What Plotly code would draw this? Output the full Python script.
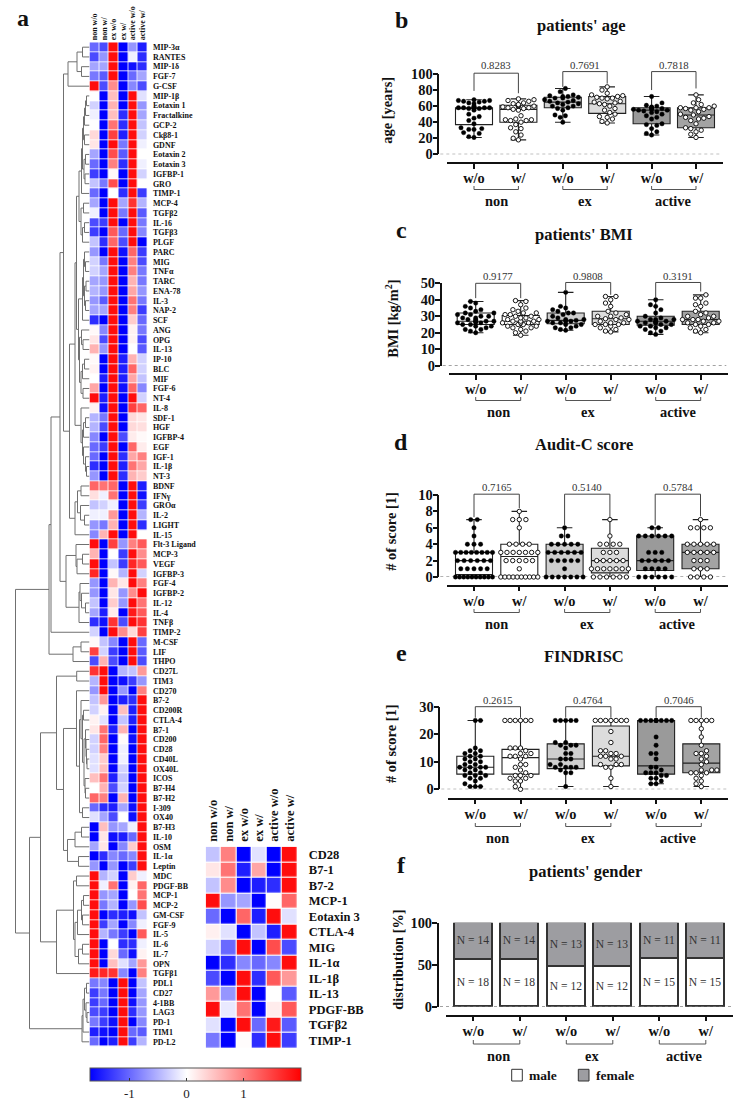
import plotly.graph_objects as go

W, H = 740, 1101
SERIF = "Liberation Serif"

def xd(p): return p / W
def yd(p): return 1 - p / H

# ---------- heat map data ----------
columns = ["non w/o", "non w/", "ex w/o", "ex w/", "active w/o", "active w/"]
row_labels = ["MIP-3α","RANTES","MIP-1δ","FGF-7","G-CSF","MIP-1β","Eotaxin 1","Fractalkine","GCP-2","Ckβ8-1","GDNF",
 "Eotaxin 2","Eotaxin 3","IGFBP-1","GRO","TIMP-1","MCP-4","TGFβ2","IL-16","TGFβ3","PLGF","PARC","MIG","TNFα","TARC",
 "ENA-78","IL-3","NAP-2","SCF","ANG","OPG","IL-13","IP-10","BLC","MIF","FGF-6","NT-4","IL-8","SDF-1","HGF","IGFBP-4",
 "EGF","IGF-1","IL-1β","NT-3","BDNF","IFNγ","GROα","IL-2","LIGHT","IL-15","Flt-3 Ligand","MCP-3","VEGF","IGFBP-3",
 "FGF-4","IGFBP-2","IL-12","IL-4","TNFβ","TIMP-2","M-CSF","LIF","THPO","CD27L","TIM3","CD270","B7-2","CD200R","CTLA-4",
 "B7-1","CD200","CD28","CD40L","OX40L","ICOS","B7-H4","B7-H2","I-309","OX40","B7-H3","IL-10","OSM","IL-1α","Leptin",
 "MDC","PDGF-BB","MCP-1","MCP-2","GM-CSF","FGF-9","IL-5","IL-6","IL-7","OPN","TGFβ1","PDL1","CD27","4-1BB","LAG3",
 "PD-1","TIM1","PD-L2"]
heat_values = [
[-1.0,-1.2,1.9,-1.7,-0.7,-1.5],[-1.2,-0.7,1.9,-1.7,-0.1,-1.4],[-0.6,-0.6,1.9,-1.7,-1.6,-1.4],[-0.9,-1.1,1.9,-1.7,-1.0,-0.6],
[1.9,-1.2,0.9,-1.7,-0.8,-1.2],[0,-1.7,0.5,-1.7,1.9,-0.2],[-0.3,-1.7,0.6,-1.7,1.9,-0.7],[-0.1,-1.7,0.5,-1.4,1.9,-0.6],
[0,-1.7,1.1,-1.4,1.9,-0.4],[0.3,-1.7,1.5,-1.5,1.9,-0.3],[0.2,-1.7,1.9,-0.9,1.9,-0.1],[-0.6,-1.7,1.4,-1.1,1.9,0],
[-1.0,-1.7,1.0,-1.4,1.9,-0.1],[-1.3,-1.7,0.05,-1.7,1.9,-0.3],[-0.4,-0.9,1.4,-1.7,1.9,0],[-1.0,-1.7,0,-1.4,1.9,-1.3],
[-0.6,-1.7,1.9,-0.6,1.6,-0.5],[-0.1,-1.7,1.9,-0.9,1.9,-1.1],[-1.2,-1.3,1.9,-1.7,1.9,-0.9],[-1.3,-1.7,1.3,-1.0,1.9,-0.8],
[-0.4,-1.4,1.2,-1.2,1.9,-1.7],[-0.7,-1.7,1.9,-1.6,1.2,-1.3],[-0.3,-0.9,1.9,-1.7,1.0,-1.2],[-0.3,-0.6,1.9,-1.7,1.0,-0.9],
[-0.6,-0.7,1.9,-1.7,0.6,-0.9],[-0.5,-0.7,1.9,-1.7,0.7,-0.7],[-0.7,-1.1,1.9,-1.7,1.1,-0.9],[-0.6,-0.6,1.9,-1.7,1.0,-1.3],
[-1.4,-1.7,1.9,-1.7,0.4,-1.0],[0.05,-0.8,1.9,-1.7,0.1,-0.9],[0.2,-1.2,1.9,-1.7,0.1,-1.2],[0.6,-0.7,1.9,-1.7,0,-1.1],
[0.05,-1.7,1.9,-1.5,0.6,-0.3],[0.1,-1.7,1.9,-1.5,1.2,-0.3],[0,-1.5,1.9,-1.5,0.7,-0.4],[0.7,-1.7,1.9,-1.6,1.2,-0.8],
[1.9,-1.5,1.9,-1.7,1.9,-0.3],[0.1,-1.6,1.9,-1.7,1.5,1.2],[-0.5,-0.9,1.9,-1.7,0.3,0.2],[-0.5,-1.2,1.9,-1.7,0.3,0.25],
[-0.8,-1.7,1.9,-1.2,0.15,0.05],[-1.0,-1.3,1.9,-1.7,1.2,0.15],[-1.0,-1.7,1.9,-1.4,0.7,1.0],[-1.4,-1.7,1.9,-1.5,1.1,0.7],
[-0.7,-1.7,1.9,-1.4,0.6,0.4],[1.2,1.1,1.2,-1.7,1.9,-1.5],[0.25,-0.1,1.1,-1.7,1.9,-1.6],[-0.4,-0.3,-0.1,-1.7,1.9,-1.3],
[-0.1,-0.1,0.8,-1.7,1.9,-0.5],[-0.7,-0.9,0.6,-1.7,1.9,-1.4],[-0.8,0.6,1.9,-1.7,1.9,0],[1.9,-1.7,1.5,-0.7,1.0,1.3],
[0.6,-1.7,0,-1.3,1.9,0.9],[1.9,-1.7,-0.4,-1.3,1.7,1.3],[1.7,-1.7,0.05,-0.5,1.9,-0.3],[-0.7,-1.7,0.6,0.2,1.9,1.0],
[-0.7,-1.7,0.2,-0.7,0.9,1.9],[-0.4,-1.7,0.4,-0.7,1.9,1.1],[-0.6,-1.5,0.15,-1.7,1.8,1.3],[-1.4,-1.6,1.6,-1.2,1.9,1.6],
[-0.3,-1.7,1.9,0.9,0.3,1.5],[0.05,-0.4,-0.8,-1.7,1.9,-1.0],[1.5,-0.3,-1.3,-1.7,1.9,-1.1],[-1.2,0.6,-1.2,-1.7,1.9,-1.2],
[1.6,1.9,-1.7,-0.5,-0.4,0.8],[-0.5,1.9,-1.7,-1.6,-1.3,-0.7],[-0.7,1.9,-1.7,-0.7,-1.7,1.0],[-0.4,0.8,-1.7,-1.5,-1.4,1.9],
[-0.3,0.1,-1.7,0.5,-1.5,1.9],[0.1,-0.2,-1.7,-0.4,-1.5,1.9],[0.2,1.1,-1.5,0.6,-1.7,1.9],[-0.3,1.2,-1.7,0.03,-1.6,1.9],
[-0.3,1.0,-1.7,-0.1,-1.7,1.9],[-0.2,0.4,-1.7,-0.1,-1.7,1.9],[-0.2,0.5,-1.7,-0.3,-1.7,1.9],[0.5,1.1,-1.5,-0.4,-1.7,1.9],
[0,0.6,-1.2,-0.3,-1.7,1.9],[1.2,1.0,-1.7,0.6,-1.7,1.9],[-1.0,-1.4,-1.5,-0.6,-1.6,1.9],[-0.2,-0.6,-1.2,0,-1.6,1.9],
[-1.7,0.5,-0.7,-0.6,-0.1,1.9],[-1.7,0.2,-1.6,-1.5,-1.0,1.9],[-0.6,0.2,-1.7,-0.8,0.4,1.9],[-1.7,-1.4,-0.8,-1.0,-0.8,1.9],
[-0.7,-1.7,-0.7,-1.7,-1.3,1.9],[1.9,-0.5,-0.3,-1.7,0.4,-0.1],[1.9,-0.1,1.1,-1.7,0.1,1.2],[1.9,-0.7,-0.6,-1.7,0,1.1],
[1.9,-0.9,-0.5,-1.7,-0.7,1.4],[1.9,-1.7,-1.4,-1.5,-1.6,-0.4],[1.9,-1.3,-0.6,-1.7,-0.8,-0.1],[1.9,-0.5,-0.9,-1.3,-1.7,1.3],
[1.9,-1.7,0,-1.4,-1.4,-0.1],[1.9,-1.7,0.3,-1.0,-1.6,0.1],[1.9,-1.7,0.5,-0.2,-0.6,0.8],[1.8,1.7,1.6,-0.8,-1.7,1.0],
[-0.9,-0.8,-1.7,1.9,-1.7,-0.4],[-1.3,-0.9,-1.7,1.9,-1.7,-0.6],[-1.3,-1.0,-1.7,1.9,-1.6,-0.7],[-1.2,-1.3,-1.7,1.9,-1.4,-0.7],
[-0.9,-1.3,-1.6,1.9,-1.7,-0.8],[-1.5,-1.6,-1.7,1.9,-1.0,-1.1],[-1.0,-1.7,-1.5,1.9,-1.3,-0.5]]

small_labels = ["CD28","B7-1","B7-2","MCP-1","Eotaxin 3","CTLA-4","MIG","IL-1α","IL-1β","IL-13","PDGF-BB","TGFβ2","TIMP-1"]
small_values = [
[-0.4,1.0,-1.7,-0.2,-1.7,1.9],[0.2,1.1,-1.5,0.7,-1.7,1.9],[-0.4,0.9,-1.7,-1.5,-1.4,1.9],[1.9,-0.7,-0.6,-1.7,0.02,1.2],
[-1.0,-1.7,1.2,-1.5,1.9,-0.2],[0.12,-0.2,-1.7,-0.4,-1.5,1.9],[-0.3,-1.0,1.9,-1.7,1.4,-1.2],[-1.7,-1.4,-0.8,-1.0,-0.8,1.9],
[-1.2,-1.7,1.9,-1.4,1.3,0.8],[0.8,-0.7,1.9,-1.7,0.0,-1.1],[1.9,-0.15,1.1,-1.7,0.15,1.3],[-0.2,-1.7,1.9,-1.0,1.8,-1.1],
[-0.9,-1.7,0.02,-1.4,1.9,-1.3]]

# dendrogram merges: [height, child, child]; a child is a row number or another merge
mip = [21.5,[12.5,[7,0,1],[8,2,3]],4]
d1 = [8,[7,[6,[5,[4,[3,5,6],7],8],[5,9,10]],[5.5,[4,11,12],[4.5,13,14]]],15]
d2 = [8.5,[6,16,17],[7,[5,18,19],20]]
e1 = [7,[6,[5,21,[4,22,23]],[5,[3.5,24,25],[4,26,27]]],28]
e2 = [10,[8,29,[6.5,30,31]],[8.5,[7,[5,32,33],34],[6.5,35,36]]]
e3 = [8.5,37,[7,[6,[4,38,39],40],[6,41,[4,42,[3,43,44]]]]]
upper_mid = [14.5,[13,[10.5,d1,d2],[11,e1,e2]],e3]
bdnf = [14.5,[12,[8.5,45,46],[9,47,[5,48,49]]],50]
low_up = [23.5,[13.5,51,[12.5,[7,52,53],54]],[10.5,[9.5,55,[8,56,[4,57,58]]],59]]
upper = [40.5,[38.5,[29.5,[26,mip,[20,upper_mid,bdnf]],low_up],60],[16.5,[8.5,61,62],63]]
cd_a = [13,66,[10,[8.5,67,[7,[6,68,69],[5.5,[4,70,[3.5,71,[3,72,[2.5,73,74]]]],[4.5,75,[4,76,77]]]]],[7,78,79]]]
cd_b = [22,[14.5,[8,80,81],82],[11,83,84]]
cd_top = [33,[12.8,64,65],[26,cd_a,cd_b]]
mono = [33,[16,[13,85,86],[14.5,[12,[8,[6,87,88],[7,89,90]],91],[11,[7,92,93],94]]],95]
checkpoint = [7.5,[6.5,[5,[3,96,97],[3.5,98,[2.5,99,100]]],101],102]
dendrogram = [74,upper,[60,[49,cd_top,mono],checkpoint]]

# ---------- patient panels data ----------
groups = ["non", "ex", "active"]
tick_text = ["w/o", "w/", "w/o", "w/", "w/o", "w/"]

age_values = [
 [68,67,67,66,66,65,64,63,60,59,59,58,58,58,58,58,57,57,55,50,47,45,42,38,33,32,31,31,27,26,22,21],
 [69,68,67,66,64,63,62,61,61,60,60,60,59,58,58,57,56,55,48,44,43,43,42,42,40,37,33,32,28,24,20,18],
 [82,78,74,73,72,72,71,70,70,68,67,66,65,64,63,62,60,60,58,57,55,49,48,46,40],
 [84,80,76,74,73,72,71,70,70,69,66,65,64,63,62,60,57,55,52,50,47,46,44,41,39],
 [72,64,61,60,59,58,58,57,56,56,55,55,54,53,52,50,48,46,44,38,37,36,32,28,26,24],
 [74,68,64,62,60,58,58,58,57,56,55,53,50,49,47,46,45,44,42,38,33,32,30,28,25,21]]
age_q1 = [37,40,58,51,38,33]; age_med = [57,56,65,63,55,49]; age_q3 = [58,61,71,72,58,58]
age_low = [21,18,40,39,24,21]; age_high = [68,69,82,84,72,74]

bmi_values = [
 [39,38,36,35,34,33,32,32,31,31,30,30,29,29,28,28,27,27,27,27,26,26,26,25,25,24,24,23,22,22,21,20],
 [39.5,39,37,35,34,33,32,32,31,31,30,30,29,29,28,28,27,27,27,26,26,26,25,25,24,24,23,23,22,21,20,18.5],
 [44.5,36,35,34,33,32,32,31,30,29,28,28,27.5,27,27,27,26,26,25,25,24,23,23,22,21.5],
 [42,42,40,38,36,33,32,31,30,30,29,28.5,28,28,27,26,26,25,25,25,24,23,22,21,20.5],
 [40,37,36,34,32,30,29,28,28,28,27,27,27,26,26,26,25,25,24,24,23,23,22,21,20,19],
 [43,41,41,38,37,36,33,32,31,30,30,29,28,28,28,27,27,26,26,25,25,24,23,22,21,20]]
bmi_q1 = [25,25,25.5,25,24.5,25]; bmi_med = [27,27,27.5,28.5,27,28]; bmi_q3 = [32,30.5,32,33,30,33]
bmi_low = [20,18.5,21.5,20.5,19,20]; bmi_high = [39,39.5,44.5,42,40,43]

audit_values = [
 [7,7,6,5,4,4,4,3,3,3,3,3,3,3,3,2,2,2,2,2,2,1,1,1,1,1,0,0,0,0,0,0,0,0,0,0],
 [8,7,7,7,6,4,4,4,4,3,3,3,3,3,3,3,2,2,2,2,2,1,0,0,0,0,0,0,0,0,0,0],
 [6,5,5,4,4,4,4,4,3,3,3,3,3,3,2,2,2,2,2,1,0,0,0,0,0,0,0],
 [7,5,4,4,4,4,3,3,3,2,2,2,2,2,1,1,1,1,1,1,1,0,0,0,0,0,0],
 [6,6,5,5,5,5,5,5,3,3,3,2,2,2,2,2,1,1,1,1,0,0,0,0,0,0],
 [7,6,6,6,6,4,4,4,4,4,3,3,3,3,3,2,2,2,1,1,1,0,0,0,0]]
audit_q1 = [0.3,0,0,0.5,0.8,1]; audit_med = [2,2.5,3,2,2,3]; audit_q3 = [3,4,4,3.5,5,4]
audit_low = [0,0,0,0,0,0]; audit_high = [7,8,6,7,6,7]

find_values = [
 [25,25,15,14,14,13,13,12,12,11,11,10,10,9,9,8,8,8,8,7,7,6,6,5,5,5,4,4,3,2,1,1,1],
 [25,25,25,25,25,25,15,15,15,14,13,13,12,12,12,11,9,9,8,7,6,5,5,5,4,4,3,3,1,0],
 [25,25,25,25,25,17,17,16,16,16,15,13,13,11,11,11,9,9,8,8,8,8,7,6,6,1],
 [25,25,25,25,25,25,25,21,17,14,14,13,13,12,12,12,11,11,9,9,9,8,8,4,1],
 [25,25,25,25,25,25,25,25,25,19,16,13,13,11,8,8,7,6,6,6,5,5,4,4,3,2,2],
 [25,25,25,25,25,22,19,16,14,13,13,12,11,10,9,7,7,7,6,6,6,5,4,3,2,1]]
find_q1 = [5.5,5.5,7.5,8.5,5.5,6]; find_med = [8,11.5,11,12,8.5,9.5]; find_q3 = [12,14.5,16.5,23,25,16.5]
find_low = [1,0,1,1,2,1]; find_high = [25,25,25,25,25,25]

male_n = [18,18,12,12,15,15]
female_n = [14,14,13,13,11,11]

age_p = ["0.8283","0.7691","0.7818"]
bmi_p = ["0.9177","0.9808","0.3191"]
audit_p = ["0.7165","0.5140","0.5784"]
find_p = ["0.2615","0.4764","0.7046"]

# ---------- figure ----------
fig = go.Figure()
shapes, notes = [], []

def note(x, y, text, size, bold=True, color="#111", anchor="center", angle=0):
    t = f"<b>{text}</b>" if bold else text
    notes.append(dict(x=xd(x), y=yd(y), xref="paper", yref="paper", text=t, showarrow=False,
                      textangle=angle, xanchor=anchor, yanchor="middle",
                      font=dict(family=SERIF, size=size, color=color)))

colorscale = [[0, "#0000ff"], [1.7 / 3.7, "#ffffff"], [1, "#ff0000"]]
ZMIN, ZMAX = -1.7, 2.0

fig.add_trace(go.Heatmap(z=heat_values, x=columns, y=row_labels, xaxis="x", yaxis="y", xgap=0.8, ygap=0.8,
    colorscale=colorscale, zmin=ZMIN, zmax=ZMAX, showscale=True,
    colorbar=dict(orientation="h", lenmode="pixels", len=210.5, thicknessmode="pixels", thickness=12.5,
                  x=xd(89.5), xanchor="left", y=yd(1068), yanchor="top", xpad=0, ypad=0,
                  tickvals=[-1, 0, 1], ticktext=["-1", "0", "1"], ticks="inside", ticklen=3, tickcolor="#333",
                  outlinecolor="#555", outlinewidth=1,
                  tickfont=dict(family=SERIF, size=13, color="#222"))))
fig.add_trace(go.Heatmap(z=small_values, x=columns, y=small_labels, xaxis="x2", yaxis="y2", xgap=1.2, ygap=1.2,
    colorscale=colorscale, zmin=ZMIN, zmax=ZMAX, showscale=False))

# dendrogram drawn from the merge table
dx, dy = [], []
def walk(node):
    if isinstance(node, int):
        return 0.0, float(node)
    h, a, b = node
    ha, ya = walk(a)
    hb, yb = walk(b)
    dx.extend([ha, h, h, hb, None])
    dy.extend([ya, ya, yb, yb, None])
    return h, (ya + yb) / 2
walk(dendrogram)
fig.add_trace(go.Scatter(x=dx, y=dy, xaxis="x3", yaxis="y3", mode="lines",
                         line=dict(color="#707070", width=1), hoverinfo="skip", showlegend=False))

def axis_off(**k):
    return dict(visible=False, fixedrange=True, **k)

layout_axes = dict(
    xaxis=dict(domain=[xd(89.5), xd(147.3)], side="top", tickangle=-90, ticks="", showline=False, showgrid=False,
               zeroline=False, anchor="y", tickmode="array", tickvals=columns, ticktext=[f"<b>{t}</b>" for t in columns],
               tickfont=dict(family=SERIF, size=8, color="#111"), ticklabelstandoff=1),
    yaxis=dict(domain=[yd(1046.7), yd(42.3)], side="right", autorange="reversed", showline=False, showgrid=False,
               zeroline=False, anchor="x", tickmode="array", tickvals=row_labels, ticktext=[f"<b>{t}</b>" for t in row_labels],
               ticks="outside", ticklen=3, tickcolor="rgba(0,0,0,0)", tickfont=dict(family=SERIF, size=8, color="#111")),
    xaxis2=dict(domain=[xd(205.7), xd(297.3)], side="top", tickangle=-90, ticks="", showline=False, showgrid=False,
                zeroline=False, anchor="y2", tickmode="array", tickvals=columns, ticktext=[f"<b>{t}</b>" for t in columns],
                tickfont=dict(family=SERIF, size=12.5, color="#111"), ticklabelstandoff=4),
    yaxis2=dict(domain=[yd(1048.3), yd(846.7)], side="right", autorange="reversed", showline=False, showgrid=False,
                zeroline=False, anchor="x2", tickmode="array", tickvals=small_labels,
                ticktext=[f"<b>{t}</b>" for t in small_labels], ticks="outside", ticklen=8, tickcolor="rgba(0,0,0,0)",
                tickfont=dict(family=SERIF, size=12.5, color="#111")),
    xaxis3=axis_off(domain=[xd(15), xd(89.5)], range=[74.5, 0], anchor="y3"),
    yaxis3=axis_off(domain=[yd(1046.7), yd(42.3)], range=[102.5, -0.5], anchor="x3"),
)

FILLS = ["#ffffff", "#ffffff", "#cfcfcf", "#dcdcdc", "#9a9a9a", "#a3a3a3"]
LINE = "#222222"

def row_swarm(values, center, sp):
    """Integer scores: each score forms one row, squeezed to the box width."""
    rows = {}
    for v in values:
        rows.setdefault(v, []).append(v)
    xs, ys = [], []
    for row in rows.values():
        n = len(row)
        step = min(6.6, 37.0 / max(n - 1, 1)) / sp
        for i, v in enumerate(row):
            xs.append(center + (i - (n - 1) / 2) * step)
            ys.append(v)
    return xs, ys

def bee_swarm(values, center, sp, py):
    """Points move sideways from the category centre until they no longer touch a placed point."""
    placed, xs, ys = [], [], []
    side = 1
    for v in sorted(values):
        vy = v * py
        chosen = 0.0
        for k in range(0, 8):
            cands = [0.0] if k == 0 else [side * k * 2.6, -side * k * 2.6]
            hit = None
            for c in cands:
                if all((c - a) ** 2 + (vy - b) ** 2 >= 5.2 ** 2 for a, b in placed):
                    hit = c
                    break
            if hit is not None:
                chosen = hit
                break
        side = -side
        placed.append((chosen, vy))
        xs.append(center + chosen / sp)
        ys.append(v)
    return xs, ys

panels = [
 dict(id=4, values=age_values, q1=age_q1, med=age_med, q3=age_q3, low=age_low, high=age_high, p=age_p,
      top=74, zero=154.3, axis=438.3, base=163.3, left=447, right=723, c0=474, sp=44.4, ymax=100, dtick=20, rows=False,
      title="patients' age", tx=580.7, ty=25, ylab="age [years]", lx=386.7, ly=110, letter="b", ley=20, py=64.7,
      brackets=[(101, 79, 76), (103, 84, 88), (103, 80, 82)], grp=186),
 dict(id=5, values=bmi_values, q1=bmi_q1, med=bmi_med, q3=bmi_q3, low=bmi_low, high=bmi_high, p=bmi_p,
      top=283.3, zero=365.7, axis=440.7, base=374.3, left=449.3, right=728.3, c0=475.7, sp=45, ymax=50, dtick=10, rows=False,
      title="patients' BMI", tx=584, ty=235, ylab="BMI [kg/m<sup>2</sup>]", lx=391.7, ly=319, letter="c", ley=230, py=276,
      brackets=[(50, 41, 41), (50.5, 45.5, 43), (50.5, 41, 45)], grp=397),
 dict(id=6, values=audit_values, q1=audit_q1, med=audit_med, q3=audit_q3, low=audit_low, high=audit_high, p=audit_p,
      top=495, zero=577, axis=438.3, base=585.7, left=447.3, right=727.7, c0=474, sp=45.3, ymax=10, dtick=2, rows=True,
      title="Audit-C score", tx=583.5, ty=445, ylab="# of score [1]", lx=391, ly=531.7, letter="d", ley=441.7, py=487,
      brackets=[(10.1, 7.3, 8.4), (10.1, 6.3, 7.3), (10.1, 6.3, 7.4)], grp=609),
 dict(id=7, values=find_values, q1=find_q1, med=find_med, q3=find_q3, low=find_low, high=find_high, p=find_p,
      top=706.7, zero=789.3, axis=439.3, base=798.7, left=447.7, right=728.3, c0=475.3, sp=45.2, ymax=30, dtick=10, rows=False,
      title="FINDRISC", tx=584, ty=656, ylab="# of score [1]", lx=391, ly=744, letter="e", ley=653, py=700,
      brackets=[(30, 26, 26), (30, 26, 26), (30, 26, 26)], grp=823),
]

TICKFONT = dict(family=SERIF, size=14.4, color="#111")
STANDOFF = -3

def panel_axes(pn):
    i = pn["id"]
    lo = (pn["left"] - pn["c0"]) / pn["sp"]
    hi = (pn["right"] - pn["c0"]) / pn["sp"]
    layout_axes[f"xaxis{i}"] = dict(domain=[xd(pn["left"]), xd(pn["right"])], range=[lo, hi], anchor="free",
        position=yd(pn["base"]), showline=True, linecolor="#111", linewidth=1.5, showgrid=False, zeroline=False,
        ticks="outside", ticklen=5, tickwidth=1.5, tickcolor="#111", tickmode="array", tickvals=list(range(6)),
        ticktext=[f"<b>{t}</b>" for t in tick_text], tickfont=TICKFONT, ticklabelstandoff=STANDOFF)
    layout_axes[f"yaxis{i}"] = dict(domain=[yd(pn["zero"]), yd(pn["top"])], range=[0, pn["ymax"]], anchor="free",
        position=xd(pn["axis"]), showline=True, linecolor="#111", linewidth=1.5, showgrid=False, zeroline=False,
        ticks="outside", ticklen=5, tickwidth=1.5, tickcolor="#111", tickmode="linear", tick0=0, dtick=pn["dtick"],
        tickprefix="<b>", ticksuffix="</b>", tickfont=TICKFONT, ticklabelstandoff=STANDOFF)
    shapes.append(dict(type="line", xref="paper", yref=f"y{i}", x0=xd(pn["axis"] + 2), x1=xd(pn["right"] - 2), y0=0, y1=0,
                       line=dict(color="#666", width=1, dash="dot"), layer="below"))
    y0, y1 = yd(pn["grp"]), yd(pn["grp"] + 3.5)
    for g, name in enumerate(groups):
        a, b = 2 * g, 2 * g + 1
        shapes.append(dict(type="path", xref=f"x{i}", yref="paper",
                           path=f"M {a} {y0} L {a} {y1} L {b} {y1} L {b} {y0}", line=dict(color="#555", width=1)))
        note(pn["c0"] + (a + 0.5) * pn["sp"], pn["grp"] + 15, name, 14.4)
    note(pn["tx"], pn["ty"], pn["title"], 16.5)
    note(pn["lx"], pn["ly"], pn["ylab"], 14.4, angle=-90)
    note(401.5, pn["ley"], pn["letter"], 24, anchor="center")

for pn in panels:
    i = pn["id"]
    panel_axes(pn)
    scale = (pn["zero"] - pn["top"]) / pn["ymax"]
    for k in range(6):
        fig.add_trace(go.Box(x=[k], q1=[pn["q1"][k]], median=[pn["med"][k]], q3=[pn["q3"][k]],
                             lowerfence=[pn["low"][k]], upperfence=[pn["high"][k]], width=37 / pn["sp"],
                             whiskerwidth=0.42, fillcolor=FILLS[k], line=dict(color=LINE, width=1.1),
                             boxpoints=False, xaxis=f"x{i}", yaxis=f"y{i}", showlegend=False, hoverinfo="skip"))
    for k in range(6):
        if pn["rows"]:
            xs, ys = row_swarm(pn["values"][k], k, pn["sp"])
        else:
            xs, ys = bee_swarm(pn["values"][k], k, pn["sp"], scale)
        filled = k % 2 == 0
        fig.add_trace(go.Scatter(x=xs, y=ys, mode="markers", xaxis=f"x{i}", yaxis=f"y{i}", cliponaxis=False,
                                 marker=dict(size=4.4, color="#000000" if filled else "#ffffff",
                                             line=dict(color="#000", width=0.4 if filled else 0.9)),
                                 showlegend=False, hoverinfo="skip"))
    # the bracket tops sit above the axis range, so their values are converted to page fractions
    def val_y(v):
        return yd(pn["zero"] - v * scale)
    for g, (t, l, r) in enumerate(pn["brackets"]):
        a, b = 2 * g, 2 * g + 1
        shapes.append(dict(type="path", xref=f"x{i}", yref="paper",
                           path=f"M {a} {val_y(l)} L {a} {val_y(t)} L {b} {val_y(t)} L {b} {val_y(r)}",
                           line=dict(color="#444", width=1)))
        note(pn["c0"] + (a + 0.5) * pn["sp"], pn["py"], pn["p"][g], 10.8, bold=False, color="#333")

# gender panel
male_pct = [100 * m / (m + f) for m, f in zip(male_n, female_n)]
female_pct = [100 - m for m in male_pct]
F = dict(left=445.7, right=733.3, c0=473.3, sp=46.5)
fx = list(range(6))
fig.add_trace(go.Bar(x=fx, y=male_pct, name="male", width=38 / F["sp"], marker=dict(color="#ffffff", line=dict(color="#333", width=1.4)),
                     text=[f"N = {n}" for n in male_n], textposition="inside", insidetextanchor="middle", textangle=0,
                     constraintext="none", textfont=dict(family=SERIF, size=11.6, color="#333"),
                     xaxis="x8", yaxis="y8", showlegend=False, hoverinfo="skip"))
fig.add_trace(go.Bar(x=fx, y=female_pct, name="female", width=38 / F["sp"], marker=dict(color="#9d9da1", line=dict(color="#333", width=1.4)),
                     text=[f"N = {n}" for n in female_n], textposition="inside", insidetextanchor="middle", textangle=0,
                     constraintext="none", textfont=dict(family=SERIF, size=11.6, color="#333"),
                     xaxis="x8", yaxis="y8", showlegend=False, hoverinfo="skip"))
layout_axes["xaxis8"] = dict(domain=[xd(F["left"]), xd(F["right"])], range=[(F["left"] - F["c0"]) / F["sp"], (F["right"] - F["c0"]) / F["sp"]],
    anchor="free", position=yd(1015.7), showline=True, linecolor="#111", linewidth=1.5, showgrid=False, zeroline=False,
    ticks="outside", ticklen=5, tickwidth=1.5, tickcolor="#111", tickmode="array", tickvals=fx,
    ticktext=[f"<b>{t}</b>" for t in tick_text], tickfont=TICKFONT, ticklabelstandoff=STANDOFF)
layout_axes["yaxis8"] = dict(domain=[yd(1006.7), yd(922.7)], range=[0, 100], anchor="free", position=xd(437.7),
    showline=True, linecolor="#111", linewidth=1.5, showgrid=False, zeroline=False, ticks="outside", ticklen=5, tickwidth=1.5,
    tickcolor="#111", tickmode="array", tickvals=[0, 50, 100], ticktext=["<b>0</b>", "<b>50</b>", "<b>100</b>"], tickfont=TICKFONT,
    ticklabelstandoff=STANDOFF)
shapes.append(dict(type="line", xref="paper", yref="y8", x0=xd(440), x1=xd(733), y0=0, y1=0,
                   line=dict(color="#666", width=1, dash="dot"), layer="below"))
for g, name in enumerate(groups):
    a, b = 2 * g, 2 * g + 1
    y0, y1 = yd(1040), yd(1044)
    shapes.append(dict(type="path", xref="x8", yref="paper", path=f"M {a} {y0} L {a} {y1} L {b} {y1} L {b} {y0}",
                       line=dict(color="#555", width=1)))
    note(F["c0"] + (a + 0.5) * F["sp"] + 2, 1056, name, 14.4)
note(585, 871, "patients' gender", 16.5)
note(397.7, 960, "distribution [%]", 14.4, angle=-90)
note(401.5, 865, "f", 24)
note(23, 18, "a", 24)
for x0, x1, col, label, tx in [(511.7, 522.3, "#ffffff", "male", 527), (578.3, 589, "#9d9da1", "female", 594)]:
    shapes.append(dict(type="rect", xref="paper", yref="paper", x0=xd(x0), x1=xd(x1), y0=yd(1081), y1=yd(1069.3),
                       line=dict(color="#333", width=1), fillcolor=col))
    note(tx, 1075.5, label, 13.5, anchor="left")

fig.update_layout(width=W, height=H, margin=dict(l=0, r=0, t=0, b=0, autoexpand=False), paper_bgcolor="white",
                  plot_bgcolor="rgba(0,0,0,0)", barmode="stack", boxmode="overlay", bargap=0,
                  shapes=shapes, annotations=notes, showlegend=False, **layout_axes)
fig.write_html("out.html", config=dict(displayModeBar=False),
               post_script="document.body.style.margin='0';document.documentElement.style.overflow='hidden';")
